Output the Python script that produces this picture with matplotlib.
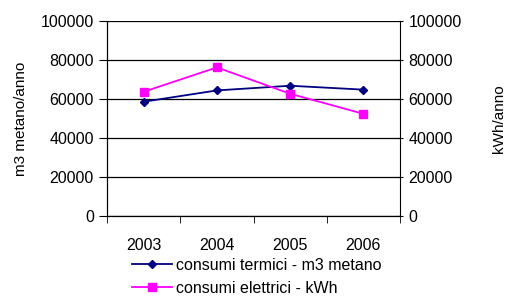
import numpy as np
import matplotlib.pyplot as plt

plt.rcParams['font.family'] = ['Liberation Sans', 'DejaVu Sans']

## dati
anni = ['2003', '2004', '2005', '2006']
termici = [58600, 64400, 66800, 64800]
elettrici = [63700, 76200, 62700, 52400]

fig = plt.figure(figsize=(5.12, 2.99), dpi=100)
ax = fig.add_axes([107/512, 1-216/299, 293/512, 195/299])
ax2 = ax.twinx()

x = np.arange(len(anni))
l1, = ax.plot(x, termici, color='#000080', marker='D', markersize=4.5, lw=1.3,
              label='consumi termici - m3 metano')
l2, = ax2.plot(x, elettrici, color='#FF00FF', marker='s', markersize=6, lw=1.3,
               label='consumi elettrici - kWh')

for a in (ax, ax2):
    a.set_ylim(0, 100000)
    a.set_yticks(np.arange(0, 100001, 20000))
    a.spines['top'].set_visible(False)
ax.set_xlim(-0.5, 3.5)
ax.set_xticks(x)
ax.set_xticklabels(anni, fontsize=11.5)
ax.set_xticks(np.arange(-0.5, 4, 1), minor=True)
ax.tick_params(axis='x', which='major', length=0, pad=16)
ax.tick_params(axis='x', which='minor', length=5, direction='out')
ax.tick_params(axis='y', length=6, direction='out', labelsize=11.5)
ax2.tick_params(axis='y', length=5, direction='inout', labelsize=11.5)
ax.grid(axis='y', color='black', lw=0.9)
ax.spines['right'].set_visible(False)

ax.set_ylabel('m3 metano/anno', fontsize=11, labelpad=9)
ax2.set_ylabel('kWh/anno', fontsize=11, rotation=90, labelpad=22)

fig.legend(handles=[l1, l2], loc='upper left', bbox_to_anchor=(124/512, 1-250/299),
           frameon=False, fontsize=11.5, handlelength=2.5, handletextpad=0.25,
           labelspacing=0.5, borderpad=0)

fig.savefig('out.png', dpi=100)
